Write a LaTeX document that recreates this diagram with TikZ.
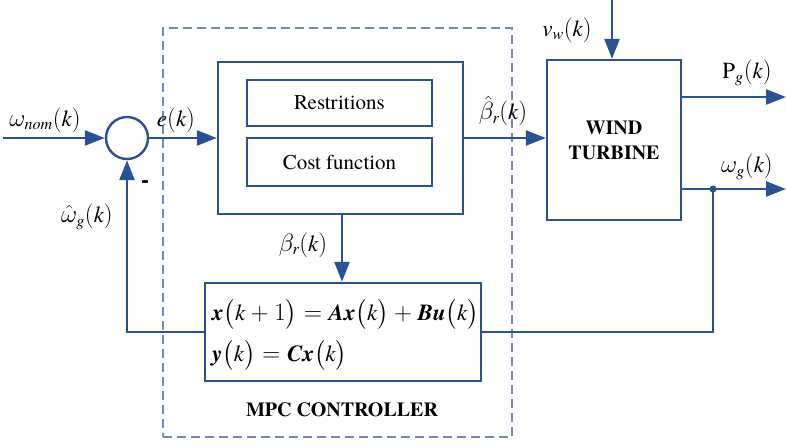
\documentclass[tikz,border=0pt]{standalone}
\usepackage{amsmath}
\usepackage{fontspec}
\setmainfont{texgyretermes}[Extension=.otf,UprightFont=*-regular,BoldFont=*-bold,ItalicFont=*-italic,BoldItalicFont=*-bolditalic]
\usetikzlibrary{arrows.meta,calc}
\definecolor{cline}{RGB}{40,82,145}
\definecolor{cdash}{RGB}{115,138,178}
\newcommand{\bvx}{\text{\bfseries\itshape x}}
\newcommand{\bvy}{\text{\bfseries\itshape y}}
\newcommand{\bvu}{\text{\bfseries\itshape u}}
\newcommand{\bvA}{\text{\bfseries\itshape A}}
\newcommand{\bvB}{\text{\bfseries\itshape B}}
\newcommand{\bvC}{\text{\bfseries\itshape C}}
\newcommand{\iv}[1]{\text{\itshape #1}}
\tikzset{
  blk/.style={draw=cline,line width=2.4pt,fill=white,inner sep=0pt,rectangle},
  sig/.style={draw=cline,line width=2.4pt,-{Triangle[length=20pt,width=15pt]}},
  wire/.style={draw=cline,line width=2.4pt},
  lbl/.style={font=\fontsize{23}{26}\selectfont,inner sep=0pt},
  txt/.style={font=\fontsize{21}{22}\selectfont,inner sep=0pt},
  btxt/.style={font=\fontsize{20}{25}\selectfont\bfseries,inner sep=0pt,align=center},
  eqn/.style={font=\fontsize{23}{26}\selectfont,inner sep=0pt,anchor=west},
}
\begin{document}
\begin{tikzpicture}[x=1pt,y=-1pt]
\useasboundingbox (0,0) rectangle (786,447);
% dashed MPC region
\node[draw=cdash,line width=1.6pt,dash pattern=on 9pt off 5pt,minimum width=349pt,minimum height=409pt,inner sep=0pt] (mpc) at (337.5,232.5) {};
% blocks
\node[blk,minimum width=245pt,minimum height=152pt] (opt) at (340.5,138) {};
\node[blk,line width=2pt,minimum width=185pt,minimum height=46pt,txt] (restr) at (339.5,103) {Restritions};
\node[blk,line width=2pt,minimum width=185pt,minimum height=48pt,txt] (cost) at (339.5,162) {Cost function};
\node[blk,minimum width=134pt,minimum height=160pt,btxt] (turb) at (614,140) {WIND\\TURBINE};
\node[blk,minimum width=276pt,minimum height=98pt] (model) at (343,332) {};
\node[eqn] (eq1) at (212,314) {$\bvx\bigl(\iv{k}+1\bigr)=\bvA\bvx\bigl(\iv{k}\bigr)+\bvB\bvu\bigl(\iv{k}\bigr)$};
\node[eqn] (eq2) at (212,355) {$\bvy\bigl(\iv{k}\bigr)=\bvC\bvx\bigl(\iv{k}\bigr)$};
\node[btxt] (mpclbl) at (342,410) {MPC CONTROLLER};
% summing junction
\node[draw=cline,line width=2.4pt,circle,minimum size=42pt,inner sep=0pt] (sum) at (127,138) {};
% coordinates
\coordinate (win) at (3,138);
\coordinate (vwin) at (612,0);
\coordinate (pgout) at (786,97);
\coordinate (wgout) at (786,189);
\coordinate (dot) at (713,189);
\coordinate (fbl) at (127,332);
% connectors
\draw[sig] (win) -- (sum.west);
\draw[sig] (sum.east) -- (opt.west |- sum.east);
\draw[sig] (opt.east |- sum.east) -- (turb.west |- sum.east);
\draw[sig] (vwin) -- (vwin |- turb.north);
\draw[sig] (turb.east |- pgout) -- (pgout);
\draw[sig] (turb.east |- wgout) -- (wgout);
\draw[wire] (dot) |- (model.east);
\fill[cline] (dot) circle (3.5pt);
\draw[sig] (342,214) coordinate (bs) -- (bs |- model.north);
\draw[sig] (model.west) -- (fbl) -- (sum.south);
% labels
\node[lbl] (lwnom) at (45,120) {$\omega_{\iv{nom}}(\iv{k})$};
\node[lbl] (le) at (176,120) {$\iv{e}(\iv{k})$};
\node[lbl] (lwhat) at (87,217) {$\hat{\omega}_{\iv{g}}(\iv{k})$};
\node[font=\fontsize{24}{26}\selectfont\bfseries,inner sep=0pt] (lminus) at (145,184) {-};
\node[lbl] (lbhat) at (503,111) {$\hat{\beta}_{\iv{r}}(\iv{k})$};
\node[lbl] (lvw) at (567,30) {$\iv{v}_{\iv{w}}(\iv{k})$};
\node[lbl] (lpg) at (747,73) {$\text{P}_{\iv{g}}(\iv{k})$};
\node[lbl] (lwg) at (747,167) {$\omega_{\iv{g}}(\iv{k})$};
\node[lbl] (lbr) at (303,245) {$\beta_{\iv{r}}(\iv{k})$};
\end{tikzpicture}
\end{document}
